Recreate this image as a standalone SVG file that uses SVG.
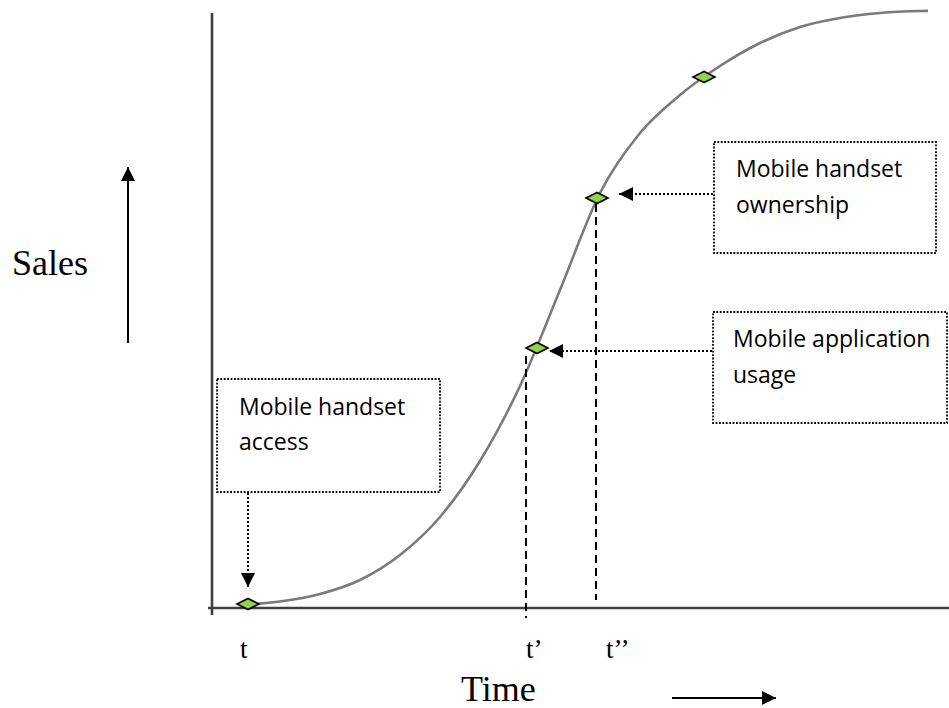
<svg xmlns="http://www.w3.org/2000/svg" width="949" height="708" viewBox="0 0 949 708">
  <style>
    .axis { stroke: #404040; stroke-width: 2.6; fill: none; }
    .curve { stroke: #7a7a7a; stroke-width: 2.6; fill: none; }
    .guide { stroke: #000; stroke-width: 2; stroke-dasharray: 8 5; fill: none; }
    .dots { stroke: #000; stroke-width: 2; stroke-dasharray: 2 2; fill: none; }
    .box { stroke: #000; stroke-width: 1.8; stroke-dasharray: 1.8 1.6; fill: #fff; }
    .mark { fill: #92d050; stroke: #000; stroke-width: 1.6; }
    .note { font-family: "Open Sans", "Noto Sans", sans-serif; font-size: 23px; fill: #000; }
    .big { font-family: "Liberation Serif", "Times New Roman", serif; font-size: 36px; fill: #000; }
    .tick { font-family: "Liberation Serif", "Times New Roman", serif; font-size: 27px; fill: #000; }
    .solid { stroke: #000; stroke-width: 2; fill: none; }
  </style>
  <defs>
    <marker id="head" viewBox="0 0 14 14" refX="14" refY="7" markerWidth="14" markerHeight="14" markerUnits="userSpaceOnUse" orient="auto">
      <path d="M0,0 L14,7 L0,14 Z" fill="#000"/>
    </marker>
    <filter id="soft" x="-5%" y="-5%" width="110%" height="110%">
      <feGaussianBlur stdDeviation="0.5"/>
    </filter>
  </defs>

  <rect width="949" height="708" fill="#fff"/>

  <!-- axes -->
  <g id="axes">
    <line class="axis" x1="212" y1="13" x2="212" y2="615"/>
    <line class="axis" x1="208" y1="608" x2="949" y2="608"/>
  </g>

  <!-- adoption curve -->
  <g id="curve" filter="url(#soft)">
    <path class="curve" d="M240,605 C253.3,604.4 266.7,603.3 280,601.5 C293.3,599.7 306.7,597.6 320,594 C333.3,590.4 346.7,586.5 360,580 C373.3,573.5 386.7,565.5 400,555 C413.3,544.5 426.7,532.7 440,517 C453.3,501.3 466.7,482.8 480,461 C493.3,439.2 506.7,414.5 520,386 C533.3,357.5 546.7,322.2 560,290 C573.3,257.8 586.7,219.2 600,193 C613.3,166.8 626.7,149.3 640,133 C653.3,116.7 666.7,106.2 680,95 C693.3,83.8 706.7,74.7 720,66 C733.3,57.3 746.7,49.5 760,43 C773.3,36.5 786.7,31.2 800,27 C813.3,22.8 826.7,20.3 840,18 C853.3,15.7 866.7,14.2 880,13 C893.3,11.8 906.7,11.3 920,11 L928,10.9"/>
  </g>

  <!-- connectors -->
  <g id="connectors">
    <line class="guide" x1="526" y1="356" x2="526" y2="618"/>
    <line class="guide" x1="596" y1="204" x2="596" y2="600"/>
    <line class="dots" x1="713" y1="194" x2="619" y2="194" marker-end="url(#head)"/>
    <line class="dots" x1="712" y1="351" x2="549" y2="351" marker-end="url(#head)"/>
    <line class="dots" x1="248" y1="493" x2="248" y2="587" marker-end="url(#head)"/>
    <line class="solid" x1="128" y1="343" x2="128" y2="167" marker-end="url(#head)"/>
    <line class="solid" x1="672" y1="698" x2="776" y2="698" marker-end="url(#head)"/>
  </g>

  <!-- points on the curve -->
  <g id="point-access"><path class="mark" d="M237,604 L248,598.5 L259,604 L248,609.5 Z"/></g>
  <g id="point-usage"><path class="mark" d="M526,348 L537,342.5 L548,348 L537,353.5 Z"/></g>
  <g id="point-ownership"><path class="mark" d="M586,198 L597,192.5 L608,198 L597,203.5 Z"/></g>
  <g id="point-late"><path class="mark" d="M693,77 L704,71.5 L715,77 L704,82.5 Z"/></g>

  <!-- annotation boxes -->
  <g id="box-ownership">
    <rect class="box" x="714" y="142" width="222" height="111"/>
    <text class="note" x="736" y="177">Mobile handset</text>
    <text class="note" x="736" y="213">ownership</text>
  </g>
  <g id="box-usage">
    <rect class="box" x="713" y="312" width="234" height="111"/>
    <text class="note" x="733" y="347">Mobile application</text>
    <text class="note" x="733" y="383">usage</text>
  </g>
  <g id="box-access">
    <rect class="box" x="217" y="379" width="223" height="113"/>
    <text class="note" x="239" y="415">Mobile handset</text>
    <text class="note" x="239" y="450">access</text>
  </g>

  <!-- axis labels -->
  <g id="labels">
    <text class="big" x="12" y="275">Sales</text>
    <text class="big" x="461" y="701">Time</text>
    <text class="tick" x="240" y="658">t</text>
    <text class="tick" x="526" y="658">t’</text>
    <text class="tick" x="606" y="658">t’’</text>
  </g>
</svg>
